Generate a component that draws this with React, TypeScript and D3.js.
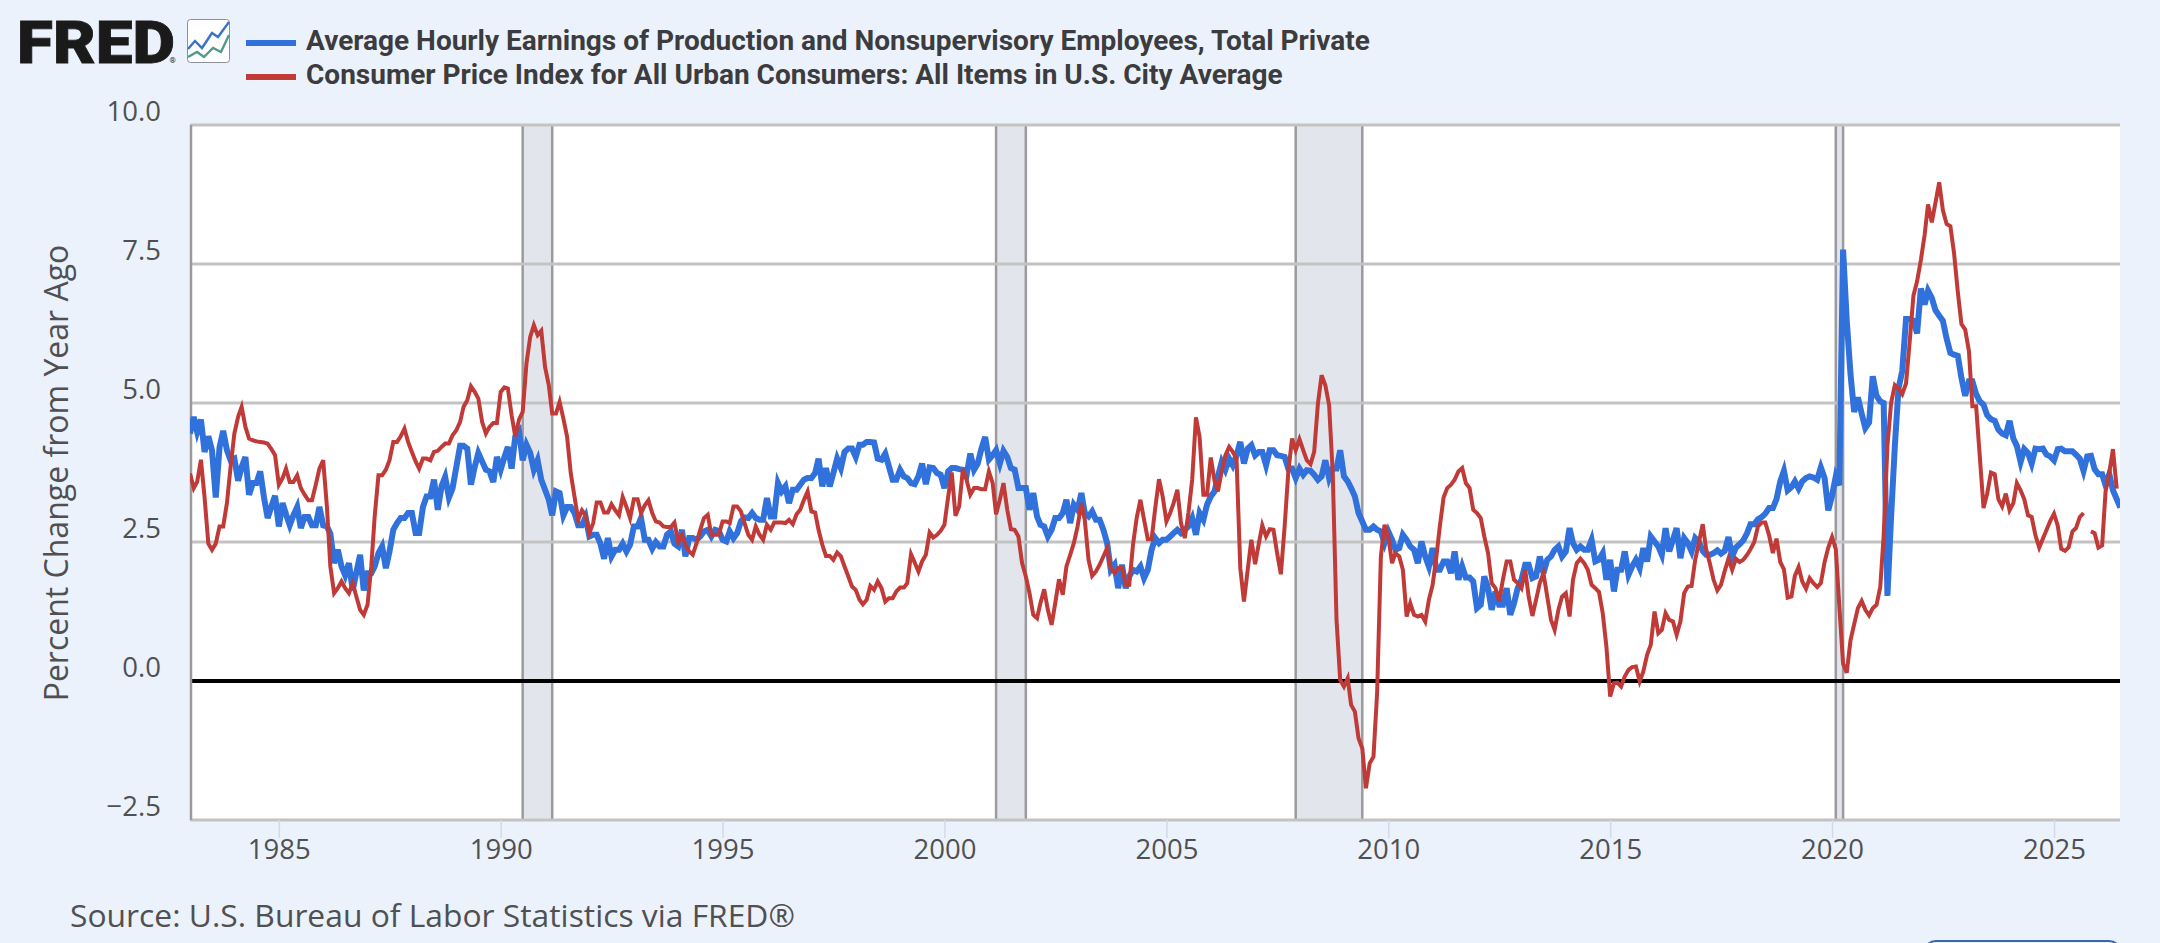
import * as React from 'react';
import * as d3 from 'd3';

// percent change from year ago, one row per year
const earnings: number[] = [
  4.45,4.75,4.48,4.7,4.12,4.4,4.15,3.3,4.2,4.5,4.15,3.97,
  4.0,3.6,3.85,4.03,3.35,3.56,3.56,3.77,3.3,2.93,3.14,3.33,
  2.78,3.2,3.0,2.8,2.98,3.13,2.75,2.95,2.95,2.8,2.8,3.13,
  2.8,2.78,2.65,2.12,2.36,2.06,1.9,2.12,1.63,1.95,2.27,1.63,
  1.94,1.94,2.06,2.3,2.42,2.03,2.33,2.72,2.84,2.93,2.93,3.02,
  3.02,2.66,2.66,3.13,3.32,3.32,3.62,3.08,3.5,3.67,3.3,3.47,
  3.85,4.23,4.23,4.18,3.53,3.85,4.1,3.95,3.8,3.77,3.58,4.03,
  3.8,4.03,4.21,3.82,4.4,4.49,3.97,4.25,4.1,3.8,3.97,3.62,
  3.44,3.26,2.98,3.41,3.38,2.98,3.13,3.13,3.02,2.8,2.8,2.95,
  2.6,2.63,2.63,2.47,2.2,2.57,2.24,2.36,2.36,2.47,2.33,2.45,
  2.78,2.78,2.93,2.54,2.54,2.38,2.5,2.42,2.42,2.63,2.69,2.47,
  2.42,2.72,2.24,2.57,2.57,2.54,2.6,2.69,2.72,2.6,2.72,2.7,
  2.54,2.51,2.69,2.57,2.66,2.87,2.94,2.93,3.02,2.93,2.9,2.9,
  3.29,2.96,2.96,3.56,3.41,3.5,3.2,3.44,3.44,3.53,3.62,3.65,
  3.65,3.74,4.0,3.5,3.83,3.5,3.74,4.0,3.83,4.12,4.18,4.18,
  4.03,4.25,4.25,4.3,4.3,4.29,4.0,3.98,4.09,3.86,3.62,3.62,
  3.8,3.68,3.65,3.56,3.54,3.68,3.91,3.54,3.84,3.83,3.74,3.71,
  3.47,3.77,3.83,3.83,3.81,3.8,3.7,4.09,3.8,3.91,4.18,4.39,
  3.98,4.06,4.15,3.91,4.14,4.03,3.83,3.8,3.47,3.47,3.47,3.08,
  3.38,2.96,2.81,2.78,2.6,2.72,2.93,2.93,3.02,3.26,2.84,3.17,
  3.08,3.38,3.02,2.96,3.05,2.9,2.9,2.72,2.48,2.0,2.09,1.67,
  2.09,1.67,1.88,2.0,1.97,2.06,1.85,2.0,2.36,2.57,2.48,2.54,
  2.54,2.6,2.66,2.72,2.66,2.72,2.78,2.93,2.63,3.02,2.9,3.17,
  3.32,3.41,3.68,3.94,3.8,4.0,3.88,4.06,4.3,3.91,4.18,4.24,
  4.06,4.12,4.12,3.88,4.15,4.15,4.06,4.05,4.03,3.82,3.82,3.65,
  3.82,3.71,3.79,3.78,3.71,3.62,3.68,3.97,3.65,3.82,3.82,4.15,
  3.68,3.59,3.47,3.32,3.02,2.87,2.72,2.72,2.78,2.72,2.69,2.48,
  2.69,2.54,2.36,2.39,2.63,2.54,2.42,2.36,2.12,2.51,2.24,2.06,
  2.39,2.0,2.0,2.15,2.15,1.94,2.33,1.82,2.06,1.86,1.86,1.79,
  1.31,1.37,1.88,1.67,1.28,1.61,1.37,1.37,1.67,1.19,1.4,1.67,
  1.82,2.09,2.09,1.85,1.88,2.24,1.94,2.18,2.24,2.36,2.42,2.24,
  2.33,2.75,2.48,2.36,2.42,2.36,2.36,2.54,2.15,2.18,2.3,1.82,
  2.18,1.61,2.0,2.0,2.33,1.91,2.06,2.18,2.03,2.39,2.15,2.6,
  2.51,2.42,2.27,2.75,2.33,2.54,2.75,2.21,2.57,2.48,2.33,2.57,
  2.5,2.34,2.27,2.27,2.3,2.35,2.29,2.34,2.59,2.24,2.4,2.46,
  2.53,2.66,2.82,2.82,2.91,2.95,3.01,3.11,3.11,3.27,3.59,3.78,
  3.43,3.49,3.59,3.46,3.59,3.65,3.68,3.66,3.62,3.84,3.65,3.07,
  3.33,3.68,3.52,7.76,6.48,5.52,4.84,5.1,4.81,4.55,4.65,5.48,
  5.13,5.03,5.0,1.53,2.95,4.23,5.26,5.58,6.51,6.51,6.48,6.25,
  7.06,6.77,7.02,6.89,6.67,6.57,6.48,6.16,5.9,5.87,5.85,5.45,
  5.13,5.39,5.39,5.16,5.03,4.97,4.78,4.71,4.68,4.52,4.45,4.42,
  4.68,4.36,4.23,3.94,4.17,4.1,3.91,4.18,4.17,4.18,4.07,4.04,
  3.97,4.17,4.18,4.13,4.13,4.13,4.07,4.0,3.78,4.04,4.05,3.81,
  3.72,3.72,3.52,3.72,3.43,3.27,3.12,
];

// Oct 2025 has no reading, so the line breaks there
const cpi: (number | null)[] = [
  3.73,3.47,3.58,3.98,3.3,2.47,2.36,2.47,2.78,2.78,3.2,3.85,
  4.45,4.75,4.93,4.57,4.36,4.33,4.31,4.3,4.29,4.27,4.17,4.06,
  3.53,3.65,3.82,3.58,3.58,3.7,3.47,3.35,3.25,3.25,3.53,3.82,
  3.97,3.13,2.06,1.58,1.67,1.79,1.67,1.58,1.76,1.52,1.28,1.19,
  1.37,2.06,2.96,3.7,3.7,3.8,3.97,4.3,4.3,4.4,4.54,4.3,
  4.12,3.95,3.82,4.0,4.0,3.97,4.12,4.14,4.21,4.27,4.27,4.42,
  4.51,4.66,4.93,5.05,5.3,5.2,5.08,4.66,4.45,4.57,4.64,4.64,
  5.2,5.28,5.26,4.78,4.4,4.7,4.84,5.71,6.19,6.4,6.22,6.3,
  5.65,5.32,4.81,4.81,5.02,4.72,4.4,3.73,3.31,2.9,3.07,2.98,
  2.66,2.84,3.21,3.21,3.03,3.03,3.18,3.07,2.98,3.31,3.13,2.93,
  3.27,3.27,3.02,3.16,3.25,3.02,2.87,2.85,2.78,2.77,2.77,2.85,
  2.5,2.62,2.45,2.33,2.27,2.48,2.72,2.93,2.99,2.63,2.63,2.63,
  2.87,2.87,2.84,3.14,3.14,3.05,2.84,2.63,2.54,2.78,2.63,2.54,
  2.81,2.72,2.85,2.85,2.85,2.84,2.9,2.82,3.0,3.08,3.26,3.41,
  3.05,3.03,2.72,2.45,2.25,2.25,2.18,2.31,2.24,2.06,1.88,1.7,
  1.64,1.46,1.38,1.46,1.71,1.64,1.79,1.67,1.43,1.49,1.49,1.61,
  1.68,1.68,1.76,2.28,2.13,1.97,2.15,2.27,2.67,2.58,2.63,2.7,
  2.81,3.32,3.75,2.97,3.14,3.81,3.62,3.35,3.47,3.47,3.45,3.45,
  3.77,3.56,3.0,3.26,3.56,3.08,2.73,2.72,2.6,2.12,1.88,1.58,
  1.19,1.13,1.4,1.65,1.28,1.01,1.4,1.83,1.55,2.06,2.27,2.48,
  2.78,3.2,2.9,2.18,1.89,1.97,2.09,2.24,2.39,2.03,1.94,2.03,
  2.04,1.73,1.73,2.45,2.93,3.26,2.9,2.55,2.55,3.11,3.63,3.32,
  2.87,3.02,3.2,3.44,2.84,2.57,3.02,3.62,4.74,4.39,3.35,3.35,
  4.02,3.6,3.41,3.77,4.06,4.21,4.12,4.0,2.03,1.43,2.0,2.54,
  2.1,2.48,2.8,2.6,2.73,2.72,2.3,1.92,2.78,3.76,4.36,4.15,
  4.35,4.15,3.97,3.9,4.12,4.99,5.5,5.32,4.96,3.73,1.1,0.02,
  -0.1,0.05,-0.43,-0.55,-1.03,-1.21,-1.93,-1.48,-1.36,-0.22,2.24,2.81,
  2.6,2.12,2.3,2.24,2.0,1.16,1.4,1.19,1.16,1.19,1.07,1.46,
  1.73,2.24,2.78,3.3,3.47,3.53,3.62,3.77,3.83,3.56,3.47,3.08,
  3.02,2.93,2.6,2.3,1.76,1.67,1.43,1.82,2.15,2.15,1.82,1.76,
  1.67,2.0,1.52,1.17,1.46,1.76,1.94,1.52,1.1,0.92,1.28,1.52,
  1.58,1.16,1.82,2.12,2.2,2.12,2.0,1.73,1.67,1.6,1.22,0.62,
  -0.28,-0.04,-0.03,-0.1,0.08,0.2,0.25,0.26,-0.01,0.17,0.47,0.65,
  1.25,0.86,0.92,1.22,1.1,1.07,0.83,1.07,1.58,1.7,1.71,2.18,
  2.5,2.82,2.37,2.11,1.82,1.63,1.73,1.98,2.2,2.0,2.2,2.14,
  2.18,2.27,2.37,2.5,2.78,2.85,2.85,2.62,2.3,2.56,2.14,2.01,
  1.5,1.52,1.89,2.05,1.79,1.66,1.85,1.76,1.69,1.76,2.14,2.4,
  2.59,2.37,1.34,0.31,0.15,0.73,1.02,1.31,1.44,1.28,1.18,1.31,
  1.37,1.69,2.62,4.23,5.0,5.32,5.26,5.16,5.35,6.1,6.93,7.19,
  7.57,8.02,8.57,8.25,8.6,8.97,8.47,8.22,8.18,7.7,7.0,6.42,
  6.32,5.93,4.94,4.94,4.04,3.11,3.37,3.75,3.72,3.27,3.14,3.37,
  3.07,3.2,3.56,3.43,3.27,2.98,2.95,2.62,2.4,2.56,2.72,2.88,
  3.01,2.79,2.38,2.34,2.4,2.69,2.75,2.95,3.02,null,2.69,2.66,
  2.4,2.44,3.4,3.75,4.17,3.46,
];

const yTicks = [-2.5, 0, 2.5, 5, 7.5, 10];
const xTickYears = [1985, 1990, 1995, 2000, 2005, 2010, 2015, 2020, 2025];
const recessions: [string, string][] = [
  ['1990-07-01', '1991-03-01'],
  ['2001-03-01', '2001-11-01'],
  ['2007-12-01', '2009-06-01'],
  ['2020-02-01', '2020-04-01'],
];
const legendNames = [
  'Average Hourly Earnings of Production and Nonsupervisory Employees, Total Private',
  'Consumer Price Index for All Urban Consumers: All Items in U.S. City Average',
];
const colors = ['#3071dc', '#c03a38'];
const textColor = '#505052';

const left = 190, right = 2120, top = 125, bottom = 820;
const parseDate = d3.utcParse('%Y-%m-%d');

export default function App() {
  const ref = React.useRef<SVGSVGElement>(null);

  React.useEffect(() => {
    const svg = d3.select(ref.current);
    svg.selectAll('*').remove();

    const start = new Date(Date.UTC(1983, 0, 1));
    const x = d3.scaleUtc().domain([start, new Date(Date.UTC(2026, 5, 28))]).range([left, right]);
    const y = d3.scaleLinear().domain([-2.5, 10]).range([bottom, top]);
    const monthOf = (i: number) => d3.utcMonth.offset(start, i);

    svg.append('rect').attr('width', 2160).attr('height', 943).attr('fill', '#ebf2fb');
    svg.append('rect').attr('x', left).attr('y', top).attr('width', right - left).attr('height', bottom - top).attr('fill', '#fff');
    svg.append('clipPath').attr('id', 'plot').append('rect')
      .attr('x', left).attr('y', top).attr('width', right - left).attr('height', bottom - top);

    // recession bands
    const bands = svg.append('g').selectAll('g').data(recessions).enter().append('g');
    bands.append('rect')
      .attr('x', d => x(parseDate(d[0])!))
      .attr('y', top)
      .attr('width', d => x(parseDate(d[1])!) - x(parseDate(d[0])!))
      .attr('height', bottom - top)
      .attr('fill', '#e2e6ec');
    bands.selectAll('line').data(d => d).enter().append('line')
      .attr('x1', d => x(parseDate(d)!)).attr('x2', d => x(parseDate(d)!))
      .attr('y1', top).attr('y2', bottom)
      .attr('stroke', '#9b9b9d').attr('stroke-width', 2.5);

    // y grid and labels
    const yAxis = d3.axisLeft(y).tickValues(yTicks).tickSize(0).tickPadding(0).tickFormat(d3.format('.1f') as any);
    const yG = svg.append('g').attr('transform', `translate(${left},0)`).call(yAxis as any);
    yG.select('.domain').remove();
    yG.selectAll('.tick text')
      .attr('x', -29).attr('y', -5).attr('dy', 0)
      .attr('font-family', '"Open Sans"').attr('font-size', 27.5).attr('fill', textColor);
    svg.append('g').selectAll('line').data(yTicks.filter(d => d !== 0)).enter().append('line')
      .attr('x1', left).attr('x2', right)
      .attr('y1', d => y(d)).attr('y2', d => y(d))
      .attr('stroke', '#c3c3c3').attr('stroke-width', 3);
    svg.append('line')
      .attr('x1', left).attr('x2', right).attr('y1', y(0)).attr('y2', y(0))
      .attr('stroke', '#000').attr('stroke-width', 4);
    svg.append('line')
      .attr('x1', left + 1).attr('x2', left + 1).attr('y1', top).attr('y2', bottom)
      .attr('stroke', '#9b9b9d').attr('stroke-width', 2.5);

    // x axis
    const xAxis = d3.axisBottom(x)
      .tickValues(xTickYears.map(d => new Date(Date.UTC(d, 0, 1))))
      .tickSize(18).tickPadding(0)
      .tickFormat(d3.utcFormat('%Y') as any);
    const xG = svg.append('g').attr('transform', `translate(0,${bottom})`).call(xAxis as any);
    xG.select('.domain').remove();
    xG.selectAll('.tick line').attr('stroke', '#d3d9e8').attr('stroke-width', 1.5);
    xG.selectAll('.tick text')
      .attr('y', 39).attr('dy', 0)
      .attr('font-family', '"Open Sans"').attr('font-size', 27.5).attr('fill', textColor);

    // series
    const line = d3.line<number | null>()
      .defined(d => d !== null)
      .x((_, i) => x(monthOf(i)))
      .y(d => y(d as number));
    const series = svg.append('g').attr('clip-path', 'url(#plot)');
    series.append('path').datum(earnings).attr('d', line as any)
      .attr('fill', 'none').attr('stroke', colors[0]).attr('stroke-width', 6);
    series.append('path').datum(cpi).attr('d', line as any)
      .attr('fill', 'none').attr('stroke', colors[1]).attr('stroke-width', 4);

    // axis title and source
    svg.append('text')
      .attr('transform', 'translate(68,473) rotate(-90)')
      .attr('text-anchor', 'middle')
      .attr('font-family', '"Open Sans"').attr('font-size', 32).attr('fill', textColor)
      .text('Percent Change from Year Ago');
    svg.append('text')
      .attr('x', 70).attr('y', 927)
      .attr('font-family', '"Open Sans"').attr('font-size', 31.8).attr('fill', textColor)
      .text('Source: U.S. Bureau of Labor Statistics via FRED®');

    // legend
    const legend = svg.append('g').selectAll('g').data(legendNames).enter().append('g')
      .attr('transform', (_, i) => `translate(0,${i * 34})`);
    legend.append('rect')
      .attr('x', 246).attr('y', 40).attr('width', 50).attr('height', 6)
      .attr('fill', (_, i) => colors[i]);
    legend.append('text')
      .attr('x', 306).attr('y', 49.5)
      .attr('font-family', 'Roboto').attr('font-size', 28).attr('font-weight', 700).attr('fill', '#3c3c3e')
      .text(d => d);

    // FRED logo
    svg.append('text')
      .attr('x', 17).attr('y', 62.5)
      .attr('font-family', 'Roboto').attr('font-size', 60).attr('font-weight', 900).attr('fill', '#1a1a1a')
      .attr('stroke', '#1a1a1a').attr('stroke-width', 0.8)
      .attr('textLength', 158).attr('lengthAdjust', 'spacingAndGlyphs')
      .text('FRED');
    svg.append('text')
      .attr('x', 169.5).attr('y', 62.5)
      .attr('font-family', 'Roboto').attr('font-size', 8).attr('fill', '#1a1a1a')
      .text('®');
    svg.append('rect')
      .attr('x', 187.5).attr('y', 19.5).attr('width', 42).attr('height', 43).attr('rx', 3)
      .attr('fill', '#fff').attr('stroke', '#8d9299').attr('stroke-width', 1);
    svg.append('path')
      .attr('d', 'M188,49 L195,41 L202,48 L212,33 L218,37 L229,22')
      .attr('fill', 'none').attr('stroke', '#3a73c5').attr('stroke-width', 2.4);
    svg.append('path')
      .attr('d', 'M188,57 L197,52 L204,57 L213,48 L221,52 L229,35')
      .attr('fill', 'none').attr('stroke', '#4f9a8c').attr('stroke-width', 2.4);

    // top edge of the button cut off by the bottom of the page
    svg.append('rect')
      .attr('x', 1924).attr('y', 941).attr('width', 197).attr('height', 30).attr('rx', 12)
      .attr('fill', 'none').attr('stroke', '#3a66ae').attr('stroke-width', 2);
  }, []);

  return (
    <svg
      ref={ref}
      width={2160}
      height={943}
      style={{position: 'absolute', left: 0, top: 0, display: 'block'}}
    />
  );
}
